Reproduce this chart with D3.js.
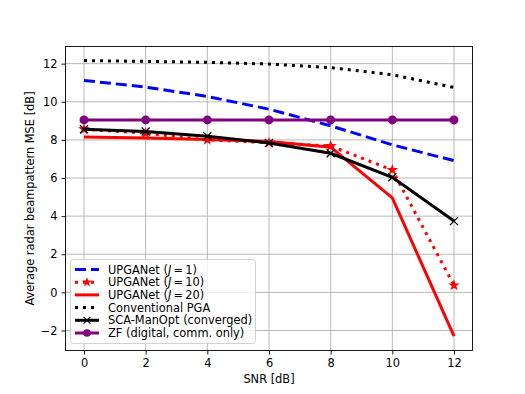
<!DOCTYPE html>
<html><head><meta charset="utf-8">
<script src="https://cdn.jsdelivr.net/npm/d3@7"></script>
<style>body{margin:0;background:#fff}</style>
</head><body>
<svg id="c" width="525" height="394"></svg>
<script>
const snr = [0, 2, 4, 6, 8, 10, 12];
const upga1 = [11.12, 10.77, 10.28, 9.61, 8.74, 7.74, 6.91];
const upga10 = [8.56, 8.35, 8.0, 7.85, 7.68, 6.42, 0.37];
const upga20 = [8.15, 8.1, 8.02, 7.92, 7.62, 4.96, -2.3];
const pga = [12.16, 12.12, 12.07, 11.98, 11.79, 11.42, 10.75];
const sca = [8.56, 8.44, 8.19, 7.84, 7.3, 6.04, 3.74];
const zf = [9.05, 9.05, 9.05, 9.05, 9.05, 9.05, 9.05];
const xTicks = [0, 2, 4, 6, 8, 10, 12];
const yTicks = [-2, 0, 2, 4, 6, 8, 10, 12];
const labels = ["UPGANet (J = 1)", "UPGANet (J = 10)", "UPGANet (J = 20)", "Conventional PGA", "SCA-ManOpt (converged)", "ZF (digital, comm. only)"];

const svg = d3.select("#c");
const L = 65.5, R = 472.5, T = 46.5, B = 350.5;
const x = d3.scaleLinear().domain([-0.6, 12.6]).range([L, R]);
const y = d3.scaleLinear().domain([-3.05, 12.9]).range([B, T]);
const font = "DejaVu Sans, sans-serif";

// grid
const g = svg.append("g");
g.selectAll(".gx").data(xTicks).enter().append("line")
  .attr("x1", d => x(d)).attr("x2", d => x(d)).attr("y1", T).attr("y2", B)
  .attr("stroke", "#b0b0b0").attr("stroke-width", 0.9);
g.selectAll(".gy").data(yTicks).enter().append("line")
  .attr("y1", d => y(d)).attr("y2", d => y(d)).attr("x1", L).attr("x2", R)
  .attr("stroke", "#b0b0b0").attr("stroke-width", 0.9);

// axes
const xAxis = d3.axisBottom(x).tickValues(xTicks).tickSize(4).tickPadding(4).tickFormat(d3.format("d"));
const yAxis = d3.axisLeft(y).tickValues(yTicks).tickSize(4).tickPadding(4).tickFormat(d => d < 0 ? "\u2212" + Math.abs(d) : d);
const ax = svg.append("g").attr("transform", `translate(0,${B})`).call(xAxis);
const ay = svg.append("g").attr("transform", `translate(${L},0)`).call(yAxis);
[ax, ay].forEach(a => {
  a.select(".domain").remove();
  a.selectAll("text").attr("font-family", font).attr("font-size", 11.4).attr("fill", "#000");
  a.selectAll("line").attr("stroke", "#000").attr("stroke-width", 0.9);
});

svg.append("text").attr("x", (L + R) / 2).attr("y", 383).attr("text-anchor", "middle")
  .attr("font-family", font).attr("font-size", 11.4).text("SNR [dB]");
svg.append("text").attr("transform", `translate(34,${(T + B) / 2}) rotate(-90)`).attr("text-anchor", "middle")
  .attr("font-family", font).attr("font-size", 11.4).text("Average radar beampattern MSE [dB]");

const series = [
  {v: upga1, color: "#0000ff", dash: "11,5", marker: null},
  {v: upga10, color: "#ff0000", dash: "3,5", marker: "star"},
  {v: upga20, color: "#ff0000", dash: null, marker: null},
  {v: pga, color: "#000000", dash: "3,5", marker: null},
  {v: sca, color: "#000000", dash: null, marker: "x"},
  {v: zf, color: "#800080", dash: null, marker: "circle"}
];
const line = d3.line().x((d, i) => x(snr[i])).y(d => y(d));
const plot = svg.append("g");
function drawMarker(sel, m, color, cx, cy, sc) {
  sc = sc || 1;
  if (m === "star") {
    sel.append("path").attr("d", d3.symbol().type(d3.symbolStar).size(42 * sc * sc)())
      .attr("transform", `translate(${cx},${cy})`).attr("fill", color);
  } else if (m === "x") {
    const r = 4 * sc;
    sel.append("path").attr("d", `M${cx-r},${cy-r}L${cx+r},${cy+r}M${cx-r},${cy+r}L${cx+r},${cy-r}`)
      .attr("stroke", color).attr("stroke-width", 1.2);
  } else if (m === "circle") {
    sel.append("circle").attr("cx", cx).attr("cy", cy).attr("r", 4.5 * sc).attr("fill", color);
  }
}
series.forEach(s => {
  plot.append("path").attr("d", line(s.v)).attr("fill", "none").attr("stroke", s.color)
    .attr("stroke-width", 3).attr("stroke-dasharray", s.dash).attr("stroke-linecap", "butt");
  if (s.marker) s.v.forEach((d, i) => drawMarker(plot, s.marker, s.color, x(snr[i]), y(d)));
});

svg.append("rect").attr("x", L).attr("y", T).attr("width", R - L).attr("height", B - T)
  .attr("fill", "none").attr("stroke", "#000").attr("stroke-width", 0.9);

// legend
const lg = svg.append("g");
lg.append("rect").attr("x", 70.5).attr("y", 259.5).attr("width", 185).attr("height", 84).attr("rx", 3)
  .attr("fill", "#fff").attr("fill-opacity", 0.8).attr("stroke", "#cccccc").attr("stroke-width", 0.9);
labels.forEach((lab, i) => {
  const s = series[i];
  const yy = 269.5 + i * 12.7;
  lg.append("line").attr("x1", 75).attr("x2", 99).attr("y1", yy).attr("y2", yy)
    .attr("stroke", s.color).attr("stroke-width", 3).attr("stroke-dasharray", s.dash);
  if (s.marker) drawMarker(lg, s.marker, s.color, 87, yy, 0.85);
  const t = lg.append("text").attr("x", 108).attr("y", yy + 4).attr("font-family", font).attr("font-size", 11.4);
  const m = lab.match(/^(.*\()J( = \d+\))$/);
  if (m) {
    t.append("tspan").text(m[1]);
    t.append("tspan").attr("font-style", "italic").text("J");
    t.append("tspan").text(m[2].replace(" = ", "\u2009=\u2009"));
  } else t.text(lab);
});
</script>
</body></html>
